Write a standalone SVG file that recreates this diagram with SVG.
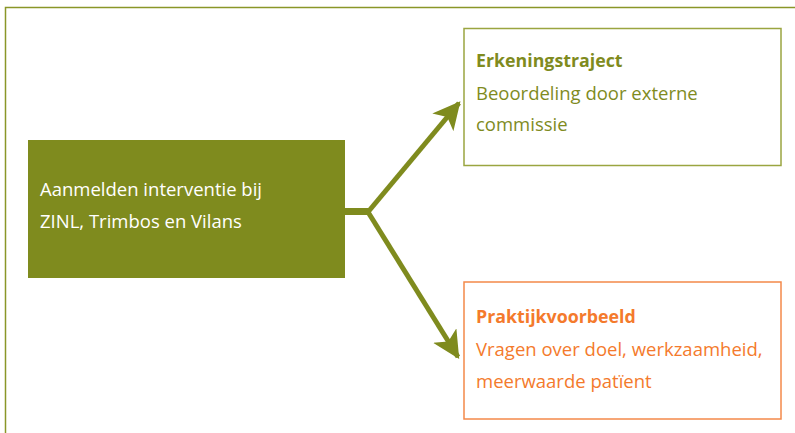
<svg xmlns="http://www.w3.org/2000/svg" width="795" height="433" viewBox="0 0 795 433">
<style>
text{font-family:"Open Sans","Noto Sans","Liberation Sans",sans-serif;font-size:18.5px}
.b{font-weight:bold;font-size:17.8px}
.g{fill:#7f8b1e}
.o{fill:#f47a2c}
.w{fill:#ffffff}
.conn{stroke:#7f8b1e;fill:none}
</style>
<defs>
<marker id="ah" viewBox="0 0 12 12" refX="11" refY="6" markerWidth="5.5" markerHeight="5.5" orient="auto" markerUnits="strokeWidth">
<path d="M0,0 L12,6 L0,12 L3,6 Z" fill="#7f8b1e"/>
</marker>
</defs>
<rect x="5.5" y="7.5" width="800" height="440" fill="none" stroke="#8a9628" stroke-width="1.5"/>
<g id="connectors">
<line class="conn" x1="345" y1="211.5" x2="369" y2="211.5" stroke-width="7"/>
<line class="conn" x1="368" y1="212" x2="459" y2="103" stroke-width="5" marker-end="url(#ah)"/>
<line class="conn" x1="368" y1="212" x2="458" y2="357" stroke-width="5" marker-end="url(#ah)"/>
</g>
<g id="start">
<rect x="28" y="140" width="317" height="138" fill="#7f8b1e"/>
<text class="w" x="40" y="196">Aanmelden interventie bij</text>
<text class="w" x="40" y="228">ZINL, Trimbos en Vilans</text>
</g>
<g id="erkenning">
<rect x="464" y="28.5" width="317" height="137" fill="#ffffff" stroke="#9aa540" stroke-width="1.5"/>
<text class="g b" x="476" y="67">Erkeningstraject</text>
<text class="g" x="476" y="100">Beoordeling door externe</text>
<text class="g" x="476" y="131">commissie</text>
</g>
<g id="praktijk">
<rect x="464" y="282" width="317" height="137" fill="#ffffff" stroke="#f4894a" stroke-width="1.5"/>
<text class="o b" x="476" y="323">Praktijkvoorbeeld</text>
<text class="o" x="476" y="356">Vragen over doel, werkzaamheid,</text>
<text class="o" x="476" y="388">meerwaarde patïent</text>
</g>
</svg>
